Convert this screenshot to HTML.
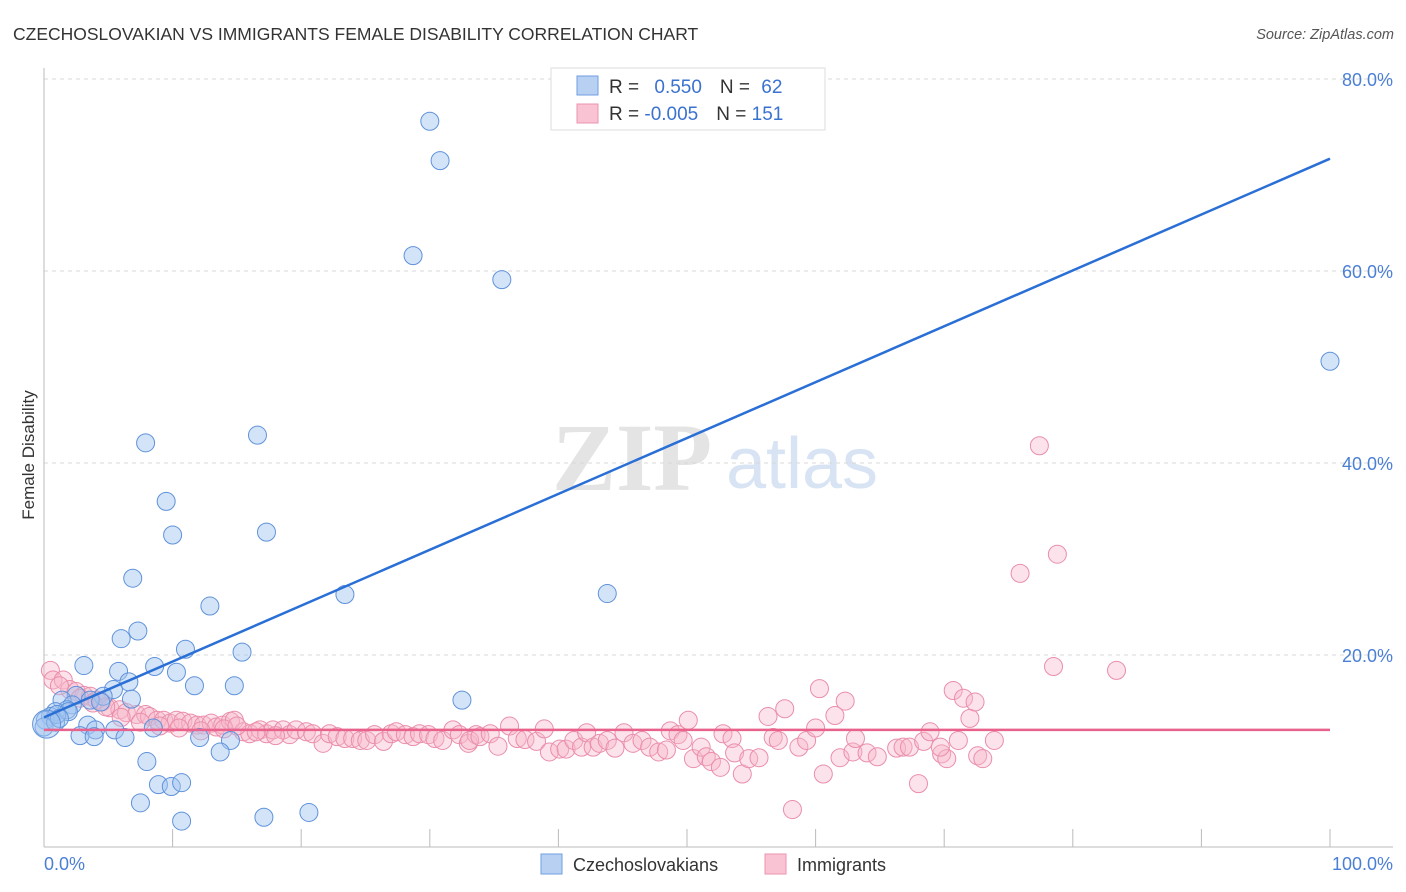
<!DOCTYPE html>
<html><head><meta charset="utf-8"><style>
body{margin:0;background:#fff;font-family:"Liberation Sans",sans-serif;}
svg{display:block}
</style></head><body>
<svg id="chart" width="1406" height="892" viewBox="0 0 1406 892" xmlns="http://www.w3.org/2000/svg">
<text x="13" y="40" font-size="17.5" fill="#333" font-family="Liberation Sans, sans-serif">CZECHOSLOVAKIAN VS IMMIGRANTS FEMALE DISABILITY CORRELATION CHART</text>
<text x="1394" y="39" text-anchor="end" font-size="14.5" font-style="italic" fill="#555">Source: ZipAtlas.com</text>
<g>
<text x="632" y="490" text-anchor="middle" font-size="96" font-family="Liberation Serif, serif" fill="#e4e4e4" font-weight="bold">ZIP</text>
<text x="802" y="488" text-anchor="middle" font-size="72" fill="#d8e4f4">atlas</text>
</g>
<g id="grid"></g>
<g id="axes"></g>
<g id="marks"></g>
<text transform="translate(34,455) rotate(-90)" text-anchor="middle" font-size="17" fill="#333">Female Disability</text>
<g>
<rect x="551" y="68" width="274" height="62" fill="#fff" stroke="#ddd"/>
<rect x="577" y="76" width="21" height="19" fill="#b8d1f3" stroke="#6f9ee0"/>
<rect x="577" y="104" width="21" height="19" fill="#f9c3d3" stroke="#ec93ae"/>
<text x="609" y="93" font-size="19" fill="#333">R = <tspan fill="#3a72d0" dx="10">0.550</tspan><tspan fill="#333" dx="18">N = </tspan><tspan fill="#3a72d0" dx="6">62</tspan></text>
<text x="609" y="120" font-size="19" fill="#333">R = <tspan fill="#3a72d0" dx="0">-0.005</tspan><tspan fill="#333" dx="18">N = </tspan><tspan fill="#3a72d0" dx="0">151</tspan></text>
</g>
<g>
<rect x="541" y="854" width="21" height="20" fill="#b8d1f3" stroke="#6f9ee0"/>
<text x="573" y="871" font-size="18" fill="#333">Czechoslovakians</text>
<rect x="765" y="854" width="21" height="20" fill="#f9c3d3" stroke="#ec93ae"/>
<text x="797" y="871" font-size="18" fill="#333">Immigrants</text>
</g>
</svg>
<script>
const yTicks=[20,40,60,80];
const yTickLabels=["20.0%","40.0%","60.0%","80.0%"];
const xTicks=[0,10,20,30,40,50,60,70,80,90,100];
const xEndLabels=["0.0%","100.0%"];
const blueX=[30.0,30.8,28.7,35.6,100,7.9,16.6,9.5,10.0,17.3,6.9,12.9,23.4,43.8,7.3,6.0,11.0,15.4,3.1,8.6,10.3,5.8,6.6,5.4,11.7,14.8,2.5,1.4,4.6,6.8,32.5,2.2,1.8,0.9,0.5,0.1,0,3.4,4.0,5.5,8.5,2.8,3.9,6.3,12.1,14.5,13.7,8.0,8.9,9.9,10.7,7.5,10.7,17.1,20.6,0.9,1.9,3.6,4.4,1.0,1.2,0.2];
const blueY=[75.6,71.5,61.6,59.1,50.6,42.1,42.9,36.0,32.5,32.8,28.0,25.1,26.3,26.4,22.5,21.7,20.6,20.3,18.9,18.8,18.2,18.3,17.2,16.4,16.8,16.8,15.8,15.3,15.7,15.4,15.3,14.8,14.3,14.1,13.6,13.2,12.5,12.7,12.2,12.2,12.4,11.6,11.5,11.4,11.4,11.1,9.9,8.9,6.5,6.3,6.7,4.6,2.7,3.1,3.6,13.0,14.1,15.3,15.1,13.8,13.4,12.8];
const pinkX=[0.5,0.7,1.5,2.0,2.5,3.1,3.6,4.1,4.5,5.1,5.9,6.4,7.2,7.9,8.2,8.8,9.3,9.8,10.3,10.8,11.4,11.9,12.4,13.0,13.4,13.9,14.5,14.8,15.5,16.0,16.8,17.3,17.8,18.6,19.1,19.6,20.4,20.9,21.7,22.2,22.8,23.4,24.0,24.6,25.1,25.7,26.4,27.0,27.4,28.1,28.7,29.2,29.9,30.4,31.0,31.8,32.3,33.0,33.6,
33.1,33.9,34.7,35.3,36.2,36.8,37.4,38.3,38.9,39.3,40.1,40.6,41.2,41.8,42.2,42.7,43.2,43.8,44.4,45.1,45.8,46.5,47.1,47.8,48.4,48.7,49.3,49.7,50.1,50.5,51.1,51.5,51.9,52.6,52.8,53.5,53.7,54.3,54.8,55.6,56.3,56.7,57.1,57.6,58.2,58.7,59.3,60.0,60.3,60.6,61.5,61.9,62.3,62.9,63.1,64.0,64.8,66.3,66.8,67.3,68.0,68.4,68.9,69.8,70.2,70.7,71.1,71.5,72.0,72.4,
77.4,78.8,75.9,78.5,83.4,72.6,73.0,73.9,69.7,
1.2,2.8,3.8,4.8,6.0,7.5,9.0,10.5,12.2,14.0,15.0,16.5,18.0];
const pinkY=[18.4,17.4,17.4,16.4,16.2,15.8,15.7,15.3,15.1,14.5,14.3,14.0,13.8,13.8,13.6,13.2,13.2,12.9,13.2,13.1,12.9,12.7,12.7,12.9,12.5,12.7,13.1,13.2,12.0,11.8,12.2,11.8,12.2,12.2,11.7,12.2,12.0,11.8,10.8,11.8,11.5,11.3,11.3,11.1,11.1,11.7,11.0,11.8,12.0,11.7,11.5,11.8,11.7,11.3,11.1,12.2,11.7,10.8,11.7,
11.1,11.5,11.8,10.5,12.6,11.3,11.2,11.0,12.3,9.9,10.2,10.2,11.1,10.4,11.9,10.4,10.8,11.1,10.3,11.9,10.8,11.1,10.4,9.9,10.1,12.1,11.7,11.1,13.2,9.2,10.4,9.4,8.9,8.3,11.8,11.3,9.8,7.6,9.2,9.3,13.6,11.4,11.1,14.4,3.9,10.4,11.1,12.4,16.5,7.6,13.7,9.3,15.2,9.9,11.3,9.8,9.4,10.3,10.4,10.4,6.6,11.0,12.0,9.7,9.2,16.3,11.1,15.5,13.4,15.1,
41.8,30.5,28.5,18.8,18.4,9.5,9.2,11.1,10.4,
16.8,15.5,15.0,14.6,13.5,13.0,12.6,12.4,12.1,12.3,12.6,12.0,11.6];
const blueTrend=[13.5,71.7];
const pinkTrend=[12.2,12.2];

const NS="http://www.w3.org/2000/svg";
const X0=44,X1=1330,Y0=847,YS=9.6;
function sx(v){return X0+(X1-X0)*v/100;}
function sy(v){return Y0-YS*v;}
function mk(tag,attrs,parent){const e=document.createElementNS(NS,tag);for(const k in attrs)e.setAttribute(k,attrs[k]);parent.appendChild(e);return e;}
const grid=document.getElementById('grid'),axes=document.getElementById('axes'),marks=document.getElementById('marks');
yTicks.forEach((t,i)=>{
  const l=mk('line',{x1:44,x2:1393,y1:sy(t),y2:sy(t),stroke:'#d8d8d8','stroke-dasharray':'4,4'},grid);
  
  
  const tx=mk('text',{x:1393,y:sy(t)+7,'text-anchor':'end','font-size':18,fill:'#4a7fd4'},grid);
  tx.textContent=yTickLabels[i];
  
  
});
const ya=mk('line',{x1:44,x2:44,y1:68,y2:847,stroke:'#bbb'},axes);


const xa=mk('line',{x1:44,x2:1393,y1:847,y2:847,stroke:'#bbb'},axes);


xTicks.forEach(t=>{
  const l=mk('line',{x1:sx(t),x2:sx(t),y1:829,y2:847,stroke:'#bbb'},axes);
  
  
});
const xl0=mk('text',{x:44,y:870,'font-size':18,fill:'#4a7fd4'},axes);xl0.textContent=xEndLabels[0];


const xl1=mk('text',{x:1393,y:870,'text-anchor':'end','font-size':18,fill:'#4a7fd4'},axes);xl1.textContent=xEndLabels[1];


pinkX.forEach((v,i)=>{
  const c=mk('circle',{cx:sx(v),cy:sy(pinkY[i]),r:9,fill:'rgba(248,182,202,0.4)',stroke:'#ea8eab','stroke-width':1},marks);
  
  
});
blueX.forEach((v,i)=>{
  const c=mk('circle',{cx:sx(v),cy:sy(blueY[i]),r:(i==blueX.length-1?14:9),fill:'rgba(160,196,240,0.45)',stroke:'#5f92da','stroke-width':1},marks);
  
  
});
const pl=mk('line',{x1:sx(0),x2:sx(100),y1:sy(pinkTrend[0]),y2:sy(pinkTrend[1]),stroke:'#e8628c','stroke-width':2.5},marks);


const bl=mk('line',{x1:sx(0),x2:sx(100),y1:sy(blueTrend[0]),y2:sy(blueTrend[1]),stroke:'#2a6fd6','stroke-width':2.5},marks);


</script>
</body></html>
